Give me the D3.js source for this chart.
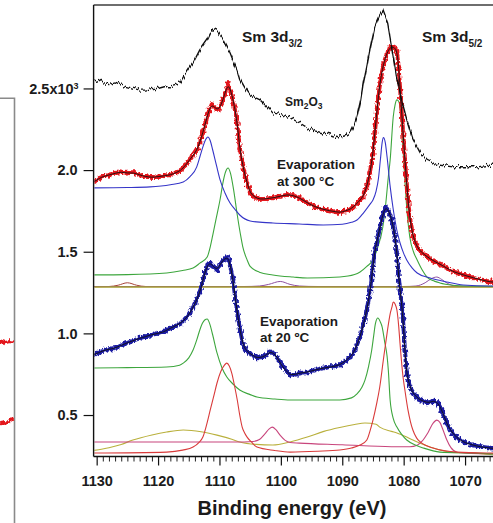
<!DOCTYPE html>
<html><head><meta charset="utf-8">
<script src="https://cdn.jsdelivr.net/npm/d3@7"></script>
<style>
html,body{margin:0;padding:0;background:#fff;}
svg{display:block;font-family:"Liberation Sans",Arial,Helvetica,sans-serif;}
</style></head><body>
<svg id="chart" width="493" height="523"></svg>
<script>
// ---- axis ticks ----
const xMajorTicks = [1130, 1120, 1110, 1100, 1090, 1080, 1070];
const xMinorTicks = d3.range(1064, 1131, 1);
const yTicks = [0.5, 1.0, 1.5, 2.0, 2.5];
const yTickLabels = ["0.5", "1.0", "1.5", "2.0", "2.5x10"];

// ---- Sm2O3 reference spectrum: [binding energy (eV), counts x10^3] ----
const sm2o3 = [[1130.4,2.54],[1129.5,2.55],[1129,2.535],[1128,2.53],[1127,2.54],[1126,2.52],[1125,2.51],[1124,2.50],[1123,2.49],[1122,2.49],[1121,2.50],[1120,2.50],[1119,2.51],[1118,2.51],[1117,2.52],[1116.4,2.53],[1115.8,2.57],[1115.3,2.60],[1114.3,2.656],[1113.2,2.736],[1112,2.80],[1111.5,2.84],[1111,2.86],[1110.3,2.85],[1109.4,2.80],[1108.3,2.72],[1107.1,2.61],[1106.7,2.56],[1105.8,2.50],[1105,2.46],[1104,2.44],[1103.4,2.43],[1102.3,2.39],[1101.3,2.35],[1100,2.34],[1098.5,2.32],[1097,2.29],[1095.7,2.26],[1094.5,2.24],[1093.1,2.227],[1091.5,2.21],[1090.4,2.203],[1089.5,2.21],[1088.7,2.227],[1088,2.28],[1087.6,2.33],[1087,2.43],[1086.6,2.53],[1086,2.64],[1085.5,2.74],[1084.7,2.88],[1083.9,2.95],[1083.4,2.98],[1082.6,2.90],[1081.9,2.74],[1081.2,2.58],[1080.6,2.47],[1079.5,2.31],[1078.5,2.19],[1077.3,2.105],[1076.2,2.06],[1075,2.04],[1074,2.03],[1072,2.02],[1070,2.02],[1068,2.02],[1066,2.03],[1064,2.03]];

// ---- evaporation at 300 °C: measured points ----
const evap300 = [[1130.4,1.93],[1129.5,1.95],[1129,1.96],[1128,1.97],[1127,1.98],[1126,1.99],[1125,1.98],[1124,1.985],[1123,1.97],[1122,1.96],[1121,1.955],[1120,1.96],[1119,1.965],[1118,1.97],[1117,1.985],[1116.2,2.00],[1115.3,2.04],[1114.5,2.08],[1113.7,2.12],[1113.2,2.17],[1112.7,2.23],[1112.2,2.30],[1111.7,2.37],[1111.2,2.40],[1110.7,2.38],[1110.2,2.37],[1109.7,2.40],[1109.2,2.46],[1108.6,2.53],[1108.1,2.48],[1107.6,2.40],[1107.1,2.29],[1106.7,2.13],[1106.2,2.03],[1105.8,1.96],[1105.3,1.90],[1105,1.86],[1104.3,1.835],[1103.4,1.82],[1102.3,1.825],[1101.3,1.83],[1100,1.84],[1099,1.85],[1098,1.845],[1097,1.83],[1095.7,1.80],[1094.5,1.775],[1093.1,1.76],[1092,1.75],[1091,1.745],[1090.4,1.74],[1089.5,1.75],[1088.7,1.76],[1088.2,1.775],[1087.5,1.80],[1086.6,1.835],[1086,1.90],[1085.5,1.98],[1085,2.10],[1084.7,2.23],[1084.3,2.38],[1083.9,2.53],[1083.3,2.65],[1082.7,2.72],[1082.2,2.75],[1081.9,2.755],[1081.5,2.75],[1081.1,2.73],[1080.8,2.63],[1080.5,2.45],[1080.1,2.23],[1079.6,1.96],[1079.1,1.73],[1078.5,1.59],[1077.7,1.52],[1076.9,1.49],[1076.2,1.47],[1075,1.44],[1074.1,1.425],[1073,1.40],[1072,1.38],[1071.3,1.37],[1070,1.355],[1068.7,1.34],[1067,1.325],[1066,1.315],[1064,1.31]];

// ---- evaporation at 20 °C: measured points ----
const evap20 = [[1130.4,0.87],[1129.5,0.885],[1128.5,0.90],[1127.5,0.905],[1126.7,0.915],[1125.5,0.935],[1124.1,0.955],[1123,0.97],[1122,0.98],[1121.3,0.99],[1120,1.00],[1119,1.01],[1118.6,1.02],[1117.5,1.04],[1116.4,1.06],[1115.5,1.09],[1114.8,1.125],[1114,1.18],[1113.2,1.25],[1112.8,1.31],[1112.4,1.37],[1111.9,1.42],[1111.5,1.43],[1111,1.41],[1110.4,1.39],[1109.9,1.42],[1109.4,1.45],[1108.8,1.465],[1108.4,1.45],[1107.8,1.33],[1107.4,1.21],[1107.0,1.10],[1106.6,1.01],[1106.2,0.94],[1105.8,0.90],[1105.0,0.875],[1104.3,0.86],[1103.9,0.85],[1102.9,0.855],[1102.3,0.87],[1101.8,0.886],[1101.2,0.88],[1100.6,0.855],[1100.1,0.82],[1099.7,0.795],[1099,0.765],[1098.5,0.745],[1097.5,0.75],[1096.9,0.757],[1095.7,0.763],[1094.5,0.775],[1093.1,0.788],[1091.7,0.795],[1090.4,0.806],[1089.5,0.83],[1088.7,0.855],[1087.9,0.898],[1087.1,0.978],[1086.5,1.06],[1086.0,1.143],[1085.5,1.25],[1085.2,1.345],[1084.7,1.51],[1084.2,1.59],[1083.5,1.713],[1083.0,1.774],[1082.5,1.756],[1081.9,1.694],[1081.4,1.59],[1081.1,1.49],[1080.9,1.39],[1080.6,1.266],[1080.3,1.17],[1080.1,1.08],[1079.8,0.90],[1079.5,0.745],[1079.0,0.68],[1078.6,0.64],[1077.9,0.61],[1077.3,0.592],[1076.2,0.575],[1075.5,0.58],[1075.2,0.586],[1074.8,0.58],[1074.4,0.573],[1073.8,0.531],[1073.4,0.49],[1073.0,0.451],[1072.5,0.415],[1072.0,0.39],[1071.3,0.36],[1070.8,0.347],[1070,0.33],[1068.7,0.316],[1067.5,0.305],[1066.0,0.298],[1064,0.29]];

// ---- fitted components, 300 °C ----
const comp300Blue = [[1130.5,1.891],[1125,1.893],[1121.3,1.897],[1118,1.91],[1115.9,1.927],[1114.8,1.96],[1113.7,2.02],[1113.2,2.08],[1112.7,2.142],[1112.2,2.19],[1111.9,2.203],[1111.5,2.18],[1111.1,2.123],[1110.5,2.03],[1109.9,1.94],[1109.1,1.86],[1108.3,1.80],[1107.5,1.76],[1106.7,1.725],[1105,1.688],[1103,1.68],[1101.3,1.676],[1097,1.67],[1093.1,1.664],[1090,1.668],[1088.5,1.68],[1087.6,1.694],[1086.5,1.74],[1085.5,1.79],[1085,1.817],[1084.5,1.87],[1084.1,1.95],[1083.8,2.06],[1083.5,2.17],[1083.3,2.20],[1083.0,2.17],[1082.7,2.08],[1082.2,1.90],[1081.7,1.76],[1081.1,1.63],[1080.6,1.555],[1080,1.49],[1079.5,1.45],[1078.6,1.40],[1077.8,1.37],[1075.7,1.339],[1073,1.315],[1070.3,1.296],[1066,1.29],[1064,1.29]];
const comp300Green = [[1130.5,1.358],[1125,1.36],[1118.6,1.37],[1116,1.385],[1114.3,1.40],[1113.2,1.43],[1112.0,1.468],[1111.5,1.53],[1111.1,1.60],[1110.5,1.71],[1109.9,1.82],[1109.4,1.93],[1109.0,1.99],[1108.6,2.013],[1108.2,1.98],[1107.7,1.88],[1107.1,1.725],[1106.6,1.61],[1106.2,1.53],[1105.5,1.45],[1105.0,1.41],[1103.5,1.375],[1101.3,1.358],[1098,1.345],[1095.7,1.339],[1090.4,1.345],[1088,1.36],[1087.1,1.376],[1086,1.41],[1085.0,1.45],[1084.2,1.53],[1083.4,1.65],[1082.9,1.80],[1082.5,1.958],[1082.2,2.062],[1081.7,2.325],[1081.4,2.40],[1081.1,2.43],[1080.8,2.42],[1080.6,2.387],[1080.1,2.123],[1079.5,1.77],[1079.0,1.59],[1078.4,1.50],[1077.8,1.45],[1077,1.39],[1076.2,1.345],[1075,1.32],[1074.1,1.309],[1072,1.295],[1070,1.29],[1064,1.288]];
const comp300Purple = [[1130.5,1.287],[1106,1.287],[1103.5,1.29],[1102,1.30],[1100.1,1.318],[1098.5,1.30],[1097,1.29],[1094,1.287],[1080,1.287],[1078,1.29],[1076.5,1.31],[1075.5,1.335],[1074.6,1.345],[1073.8,1.33],[1072.8,1.305],[1071.5,1.29],[1069,1.287],[1064,1.287]];
const comp300Brown = [[1130.5,1.286],[1128,1.287],[1126.5,1.295],[1125,1.31],[1123.5,1.295],[1122,1.287],[1064,1.286]];
const base300 = [[1130.5,1.284],[1064,1.284]];

// ---- fitted components, 20 °C ----
const comp20Green = [[1130.5,0.788],[1125,0.79],[1118.6,0.794],[1116.5,0.805],[1115.9,0.818],[1115,0.85],[1114.3,0.898],[1113.7,0.96],[1113.2,1.021],[1112.8,1.06],[1112.4,1.082],[1112.0,1.088],[1111.6,1.06],[1111.1,0.99],[1110.4,0.880],[1109.6,0.79],[1108.8,0.733],[1107.8,0.69],[1106.7,0.653],[1105,0.625],[1103.9,0.610],[1101,0.598],[1098.5,0.592],[1090.4,0.592],[1088.5,0.605],[1087.6,0.629],[1086.8,0.67],[1086.3,0.714],[1085.7,0.80],[1085.2,0.898],[1084.9,0.98],[1084.6,1.06],[1084.2,1.094],[1083.8,1.07],[1083.5,1.039],[1083.1,0.95],[1082.7,0.86],[1082.5,0.776],[1082.2,0.59],[1081.7,0.48],[1081.1,0.426],[1080.3,0.38],[1079.5,0.347],[1078,0.315],[1076.8,0.298],[1074.1,0.273],[1068.7,0.267],[1064,0.26]];
const comp20Red = [[1130.5,0.267],[1118.6,0.273],[1116,0.285],[1114.3,0.304],[1113.4,0.33],[1112.7,0.365],[1112.1,0.44],[1111.5,0.531],[1110.9,0.62],[1110.4,0.696],[1109.8,0.765],[1109.4,0.794],[1108.8,0.818],[1108.4,0.80],[1108.0,0.757],[1107.5,0.67],[1107.1,0.592],[1106.7,0.50],[1106.3,0.426],[1105.9,0.39],[1105.5,0.365],[1104.8,0.335],[1103.9,0.304],[1101,0.283],[1098.5,0.273],[1094,0.278],[1090.4,0.286],[1088.5,0.298],[1087.1,0.316],[1086.0,0.347],[1085.5,0.40],[1085.0,0.469],[1084.4,0.57],[1083.9,0.67],[1083.3,0.84],[1082.7,1.002],[1082.2,1.12],[1081.9,1.162],[1081.7,1.192],[1081.4,1.18],[1081.1,1.143],[1080.8,1.04],[1080.6,0.941],[1080.1,0.733],[1079.8,0.653],[1079.3,0.531],[1078.9,0.46],[1078.5,0.408],[1077.9,0.36],[1077.3,0.335],[1075.2,0.298],[1071.3,0.273],[1066,0.267],[1064,0.266]];
const comp20Magenta = [[1130.5,0.335],[1106,0.335],[1104.5,0.338],[1103.5,0.35],[1102.6,0.385],[1101.9,0.415],[1101.4,0.426],[1100.8,0.41],[1100.1,0.375],[1099.3,0.345],[1098.5,0.332],[1097,0.328],[1090,0.318],[1082,0.306],[1079,0.306],[1077.8,0.315],[1077,0.34],[1076,0.395],[1075.2,0.45],[1074.6,0.469],[1074.1,0.455],[1073.6,0.41],[1073,0.35],[1072.3,0.30],[1071.3,0.272],[1069,0.265],[1064,0.262]];
const comp20Yellow = [[1130.5,0.283],[1128,0.30],[1126,0.32],[1124.1,0.347],[1121,0.378],[1118.6,0.396],[1115.9,0.408],[1113,0.398],[1110.4,0.377],[1108,0.352],[1106.7,0.335],[1104,0.32],[1101.3,0.316],[1098.5,0.335],[1095.7,0.365],[1093,0.40],[1090.4,0.424],[1088,0.442],[1086.3,0.451],[1084.5,0.444],[1083.9,0.426],[1082,0.40],[1081.1,0.39],[1079.5,0.365],[1078.5,0.347],[1077,0.322],[1075.7,0.304],[1074,0.285],[1072.5,0.273],[1068.7,0.267],[1066,0.258],[1064,0.255]];

// ---- neighbouring panel (right end of its traces) ----
const sidePanelTraceA = [[0.55,0.945],[0.7,0.952],[0.8,0.944],[0.9,0.95],[1.0,0.947]];
const sidePanelTraceB = [[0.55,0.44],[0.7,0.447],[0.85,0.455],[0.93,0.47],[0.98,0.48]];

// ---- layout ----
const W = 493, H = 523;
const plot = {left: 93.6, top: 5, bottom: 456.5, right: 501.9};

const svg = d3.select("#chart");
const x = d3.scaleLinear().domain([1130.5, 1064]).range([plot.left, plot.right]);
const y = d3.scaleLinear().domain([0.246, 3.011]).range([plot.bottom, plot.top]);

const defs = svg.append("defs");
defs.append("clipPath").attr("id", "plotClip")
  .append("rect").attr("x", plot.left + 0.8).attr("y", plot.top + 1)
  .attr("width", W - plot.left).attr("height", plot.bottom - plot.top - 1.5);

// scatter texture for the measured points
function noiseFilter(id, freq, scale, seed, verticalOnly) {
  const f = defs.append("filter").attr("id", id).attr("filterUnits", "userSpaceOnUse")
    .attr("x", 0).attr("y", 0).attr("width", W).attr("height", H);
  f.append("feTurbulence").attr("type", "fractalNoise").attr("baseFrequency", freq)
    .attr("numOctaves", 1).attr("seed", seed).attr("result", "n0");
  let src = "n0";
  if (verticalOnly) {
    // keep horizontal displacement neutral, vary only vertically
    f.append("feColorMatrix").attr("in", "n0").attr("type", "matrix")
      .attr("values", "0 0 0 0 0.5  0 1.6 0 0 -0.3  0 0 0 0 0  0 0 0 0 1")
      .attr("result", "n1");
    src = "n1";
  }
  f.append("feDisplacementMap").attr("in", "SourceGraphic").attr("in2", src)
    .attr("scale", scale).attr("xChannelSelector", "R").attr("yChannelSelector", "G");
}
noiseFilter("jitter", "0.55 0.35", 5.5, 7, false);
noiseFilter("jitterLine", "0.6 0.02", 6, 2, true);

const smooth = d3.line().x(d => x(d[0])).y(d => y(d[1])).curve(d3.curveMonotoneX);
const straight = d3.line().x(d => x(d[0])).y(d => y(d[1]));
const fitLine = d3.line().x(d => x(d[0])).y(d => y(d[1])).curve(d3.curveBasis);

const g = svg.append("g").attr("clip-path", "url(#plotClip)");

// components (drawn beneath the measurements)
const comps = [
  [comp300Brown, "#a8443a", 1.0],
  [comp300Purple, "#8e4fa0", 1.0],
  [base300, "#a59c2e", 1.3],
  [comp300Green, "#3da63d", 1.1],
  [comp300Blue, "#3535c8", 1.1],
  [comp20Yellow, "#b9b03c", 1.1],
  [comp20Magenta, "#c8457c", 1.1],
  [comp20Green, "#3da63d", 1.1],
  [comp20Red, "#d93a3a", 1.1]
];
comps.forEach(([data, color, w]) => {
  g.append("path").datum(data).attr("d", smooth)
    .attr("fill", "none").attr("stroke", color).attr("stroke-width", w);
});

// measured spectra as dense markers
function markers(data, color) {
  const m = g.append("g").attr("filter", "url(#jitter)");
  m.append("path").datum(data).attr("d", fitLine)
    .attr("fill", "none").attr("stroke", color).attr("stroke-width", 4);
  m.selectAll("circle").data(data).join("circle")
    .attr("cx", d => x(d[0])).attr("cy", d => y(d[1])).attr("r", 2.5)
    .attr("fill", color);
}
markers(evap300, "#e3161c");
markers(evap20, "#1d1fa3");

// fitted envelopes
[evap300, evap20].forEach(data => {
  g.append("path").datum(data).attr("d", fitLine)
    .attr("fill", "none").attr("stroke", "#111").attr("stroke-width", 0.9);
});

// Sm2O3 reference trace
g.append("path").datum(sm2o3).attr("d", straight)
  .attr("fill", "none").attr("stroke", "#111").attr("stroke-width", 1.4)
  .attr("filter", "url(#jitterLine)");

// ---- frame ----
svg.append("line").attr("x1", plot.left).attr("x2", W).attr("y1", plot.top).attr("y2", plot.top)
  .attr("stroke", "#6e6e6e").attr("stroke-width", 2);

// ---- axes ----
const axisFont = "bold 14.5px 'Liberation Sans', Arial, sans-serif";

const xMinor = d3.axisBottom(x).tickValues(xMinorTicks.filter(v => !xMajorTicks.includes(v)))
  .tickSize(5).tickSizeOuter(0).tickFormat("");
svg.append("g").attr("transform", `translate(0,${plot.bottom})`).call(xMinor)
  .call(a => a.select(".domain").remove())
  .call(a => a.selectAll("line").attr("stroke", "#222").attr("stroke-width", 1));

const xAxis = d3.axisBottom(x).tickValues(xMajorTicks).tickSize(9).tickSizeOuter(0).tickPadding(10)
  .tickFormat(d3.format("d"));
const xg = svg.append("g").attr("transform", `translate(0,${plot.bottom})`).call(xAxis);
xg.select(".domain").attr("stroke", "#111").attr("stroke-width", 1.4).attr("d", `M${plot.left},0H${W}`);
xg.selectAll("line").attr("stroke", "#111").attr("stroke-width", 1.2);
xg.selectAll("text").style("font", axisFont).attr("fill", "#1b1b1b");

const yAxis = d3.axisLeft(y).tickValues(yTicks).tickSize(10).tickSizeOuter(0).tickPadding(6)
  .tickFormat((d, i) => yTickLabels[i]);
const yg = svg.append("g").attr("transform", `translate(${plot.left},0)`).call(yAxis);
yg.select(".domain").attr("stroke", "#111").attr("stroke-width", 1.4)
  .attr("d", `M0,${plot.top}V${plot.bottom}`);
yg.selectAll("line").attr("stroke", "#111").attr("stroke-width", 1.2);
yg.selectAll("text").style("font", axisFont).attr("fill", "#1b1b1b");
// exponent on the top tick label
yg.selectAll(".tick text").filter(d => d === 2.5)
  .attr("x", -15)
  .append("tspan").text("3").attr("dy", "-0.55em").style("font", "bold 9px 'Liberation Sans', Arial, sans-serif");

svg.append("text").attr("x", 292).attr("y", 515).attr("text-anchor", "middle")
  .style("font", "bold 20px 'Liberation Sans', Arial, sans-serif").attr("fill", "#1b1b1b")
  .text("Binding energy (eV)");

// ---- annotations ----
const ann = svg.append("g").attr("fill", "#1b1b1b");
function peakLabel(px, py, sub) {
  const t = ann.append("text").attr("x", px).attr("y", py)
    .style("font", "bold 15.5px 'Liberation Sans', Arial, sans-serif");
  t.append("tspan").text("Sm 3d");
  t.append("tspan").text(sub).attr("dy", 5).style("font", "bold 10px 'Liberation Sans', Arial, sans-serif");
}
peakLabel(242, 42, "3/2");
peakLabel(422, 42, "5/2");

const ox = ann.append("text").attr("x", 285).attr("y", 106)
  .style("font", "bold 12px 'Liberation Sans', Arial, sans-serif");
ox.append("tspan").text("Sm");
ox.append("tspan").text("2").attr("dy", 3).style("font-size", "8.5px");
ox.append("tspan").text("O").attr("dy", -3);
ox.append("tspan").text("3").attr("dy", 3).style("font-size", "8.5px");

function twoLines(px, py, l1, l2) {
  const t = ann.append("text").style("font", "bold 13.5px 'Liberation Sans', Arial, sans-serif");
  t.append("tspan").attr("x", px).attr("y", py).text(l1);
  t.append("tspan").attr("x", px).attr("y", py + 16.5).text(l2);
}
twoLines(277, 169, "Evaporation", "at 300 °C");
twoLines(260, 325.5, "Evaporation", "at 20 ºC");

// ---- neighbouring panel edge ----
const sx = d3.scaleLinear().domain([0, 1]).range([-30, 14]);
svg.append("path").attr("d", "M0,98.3H14.5V523")
  .attr("fill", "none").attr("stroke", "#8a8a8a").attr("stroke-width", 1.6);
const sideG = svg.append("g").attr("filter", "url(#jitter)");
[sidePanelTraceA, sidePanelTraceB].forEach(tr => {
  sideG.append("path").datum(tr)
    .attr("d", d3.line().x(d => sx(d[0])).y(d => y(d[1])))
    .attr("fill", "none").attr("stroke", "#e3161c").attr("stroke-width", 3.2);
});
</script>
</body></html>
